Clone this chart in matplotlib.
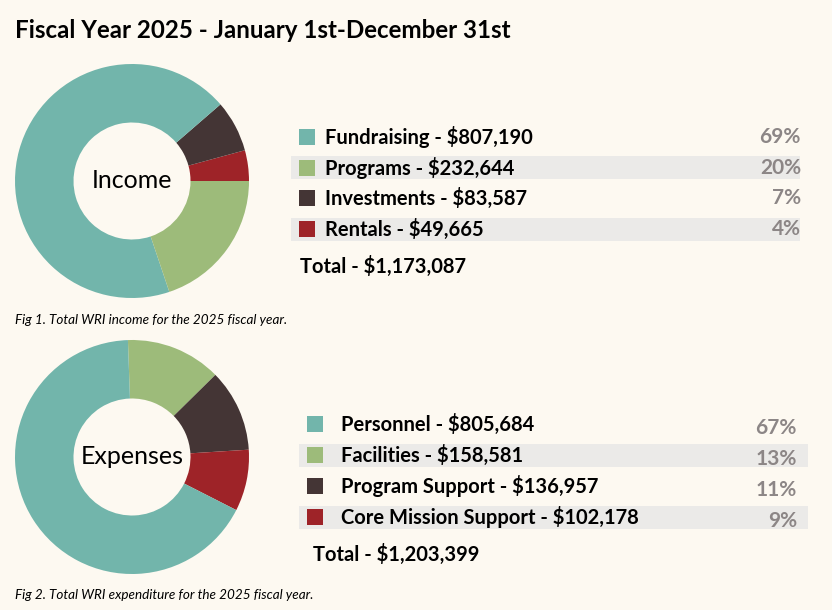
import matplotlib.pyplot as plt
from matplotlib.patches import Rectangle

plt.rcParams["font.family"] = ["Lato", "DejaVu Sans"]

BG = "#fdf9f1"
BAND = "#ebeae8"
GREY = "#8c8686"
colors = ["#72b5ab", "#9dbb7a", "#443535", "#9e2328"]

income_labels = ["Fundraising", "Programs", "Investments", "Rentals"]
income_values = [807190, 232644, 83587, 49665]
income_pct = ["69%", "20%", "7%", "4%"]
income_total = 1173087

expense_labels = ["Personnel", "Facilities", "Program Support", "Core Mission Support"]
expense_values = [805684, 158581, 136957, 102178]
expense_pct = ["67%", "13%", "11%", "9%"]
expense_total = 1203399

W, H = 832, 610
fig = plt.figure(figsize=(W / 100, H / 100), dpi=100, facecolor=BG)

# overlay axes in pixel coordinates (y down)
ax = fig.add_axes([0, 0, 1, 1])
ax.set_xlim(0, W)
ax.set_ylim(H, 0)
ax.axis("off")
ax.set_facecolor(BG)


def donut(cx, cy, r, values, order, start, ccw, label):
    dax = fig.add_axes([(cx - r) / W, (H - cy - r) / H, 2 * r / W, 2 * r / H])
    vals = [values[i] for i in order]
    cols = [colors[i] for i in order]
    dax.pie(vals, colors=cols, startangle=start, counterclock=ccw,
            wedgeprops=dict(width=0.5, linewidth=0))
    dax.set_xlim(-1, 1)
    dax.set_ylim(-1, 1)
    dax.text(0, 0, label, ha="center", va="center", fontsize=18, color="black")


donut(132, 181, 117, income_values, [3, 2, 0, 1], 0, True, "Income")
donut(132, 457, 117, expense_values, [1, 2, 3, 0], 92, False, "Expenses")

ax.text(15, 30, "Fiscal Year 2025 - January 1st-December 31st", fontsize=17.4,
        fontweight="bold", va="center", ha="left")


def legend(labels, values, pct, total, sq_x, txt_x, y0, dy, band_x0, band_x1,
           pct_x, pct_dy, total_x, total_y):
    for i, (lab, v, p) in enumerate(zip(labels, values, pct)):
        y = y0 + i * dy
        if i % 2 == 1:
            ax.add_patch(Rectangle((band_x0, y - 11.5), band_x1 - band_x0, 23,
                                   facecolor=BAND, edgecolor="none"))
        ax.add_patch(Rectangle((sq_x, y - 8), 16, 16, facecolor=colors[i],
                               edgecolor="none"))
        ax.text(txt_x, y, f"{lab} - \\${v:,}", fontsize=14.5, fontweight="bold",
                va="center", ha="left")
        ax.text(pct_x, y + pct_dy, p, fontsize=15, fontweight="bold",
                color=GREY, va="center", ha="right")
    ax.text(total_x, total_y, f"Total - \\${total:,}", fontsize=14.5,
            fontweight="bold", va="center", ha="left")


legend(income_labels, income_values, income_pct, income_total,
       299, 325, 137, 30.7, 291, 800, 801, 0, 300, 266)
legend(expense_labels, expense_values, expense_pct, expense_total,
       307, 341, 424, 31, 299, 808, 797, 4, 313, 554)

ax.text(15, 320, "Fig 1. Total WRI income for the 2025 fiscal year.",
        fontsize=9.7, style="italic", va="center", ha="left")
ax.text(15, 595, "Fig 2. Total WRI expenditure for the 2025 fiscal year.",
        fontsize=9.7, style="italic", va="center", ha="left")

fig.savefig("out.png", dpi=100, facecolor=BG)
